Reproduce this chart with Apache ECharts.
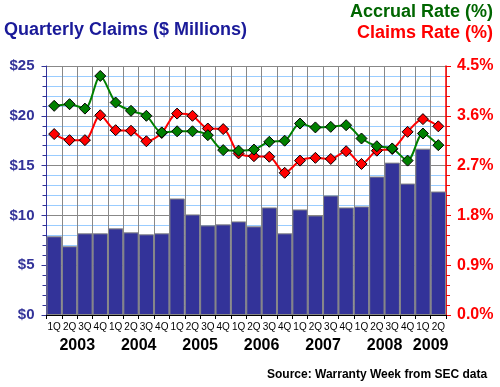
<!DOCTYPE html>
<html><head><meta charset="utf-8">
<script src="https://cdn.jsdelivr.net/npm/echarts@6/dist/echarts.min.js"></script>
<style>html,body{margin:0;padding:0;background:#fff}#c{width:500px;height:387px}</style>
</head><body><div id="c"></div>
<script>
var quarters = ['1Q','2Q','3Q','4Q','1Q','2Q','3Q','4Q','1Q','2Q','3Q','4Q','1Q','2Q','3Q','4Q','1Q','2Q','3Q','4Q','1Q','2Q','3Q','4Q','1Q','2Q'];
var years = ['2003','2004','2005','2006','2007','2008','2009'];
var yearStart = [0,4,8,12,16,20,24];
var yearEnd = [3,7,11,15,19,23,25];
var claims = [7.9,6.9,8.2,8.2,8.7,8.3,8.1,8.2,11.7,10.1,9.0,9.1,9.4,8.9,10.8,8.2,10.6,10.0,12.0,10.8,10.9,13.9,15.3,13.2,16.7,12.4];
var accrualRate = [3.78,3.81,3.73,4.32,3.84,3.69,3.60,3.30,3.32,3.32,3.25,2.98,2.97,2.99,3.13,3.15,3.46,3.39,3.40,3.43,3.19,3.05,3.01,2.79,3.28,3.07];
var claimsRate = [3.27,3.16,3.16,3.61,3.34,3.33,3.14,3.29,3.64,3.60,3.37,3.36,2.92,2.87,2.86,2.57,2.79,2.84,2.82,2.96,2.73,2.97,3.00,3.31,3.54,3.41];
var leftTicks = [0,5,10,15,20,25];
var rightTicks = [0,0.9,1.8,2.7,3.6,4.5];

var chart = echarts.init(document.getElementById('c'));
var F = 'Arial, "Liberation Sans", sans-serif';
chart.setOption({
  animation: false,
  textStyle: {fontFamily: F},
  title: [
    {text: 'Quarterly Claims ($ Millions)', left: 4, top: 21, padding: 0, textStyle: {fontSize: 18, fontWeight: 'bold', color: '#1a1a99', fontFamily: F}},
    {text: 'Accrual Rate (%)', right: 7, top: 3, padding: 0, textStyle: {fontSize: 18, fontWeight: 'bold', color: '#006600', fontFamily: F}},
    {text: 'Claims Rate (%)', right: 7, top: 24, padding: 0, textStyle: {fontSize: 18, fontWeight: 'bold', color: '#ff0000', fontFamily: F}},
    {text: 'Source: Warranty Week from SEC data', left: 267, top: 369, padding: 0, textStyle: {fontSize: 12, fontWeight: 'bold', color: '#000', fontFamily: F}}
  ],
  grid: {left: 46.5, right: 54, top: 66, bottom: 72, containLabel: false},
  xAxis: {
    type: 'category', data: quarters, boundaryGap: true,
    axisLine: {show: true, lineStyle: {color: '#000', width: 1}},
    axisTick: {show: true, interval: 0, length: 4, lineStyle: {color: '#000'}},
    axisLabel: {interval: 0, fontSize: 10, color: '#000', margin: 7, fontFamily: F},
    splitLine: {show: true, interval: 0, lineStyle: {color: '#888888', width: 1}}
  },
  yAxis: [
    {type: 'value', min: leftTicks[0], max: leftTicks[leftTicks.length-1], interval: 5,
     axisLine: {show: true, lineStyle: {color: '#333399', width: 1}},
     axisTick: {show: true, length: 5, lineStyle: {color: '#333399'}},
     minorTick: {show: true, splitNumber: 5, length: 4, lineStyle: {color: '#333399'}},
     axisLabel: {formatter: function(v){return '$' + v;}, fontSize: 15, fontWeight: 'bold', color: '#333399', margin: 12, fontFamily: F},
     splitLine: {show: true, lineStyle: {color: '#888888', width: 1}},
     minorSplitLine: {show: true, lineStyle: {color: '#99ccff', width: 1}}
    },
    {type: 'value', min: rightTicks[0], max: rightTicks[rightTicks.length-1], interval: 0.9, position: 'right',
     axisLine: {show: true, lineStyle: {color: '#ff0000', width: 1.5}},
     axisTick: {show: true, length: 5, lineStyle: {color: '#ff0000'}},
     minorTick: {show: true, splitNumber: 5, length: 4, lineStyle: {color: '#ff0000'}},
     axisLabel: {formatter: function(v){return v.toFixed(1) + '%';}, fontSize: 16, fontWeight: 'bold', color: '#ff0000', margin: 11, fontFamily: F},
     splitLine: {show: false}
    }
  ],
  series: [
    {type: 'bar', data: claims, barCategoryGap: '0%', yAxisIndex: 0,
     itemStyle: {color: '#333399', borderColor: '#888888', borderWidth: 1}},
    {type: 'line', data: claimsRate, yAxisIndex: 1, smooth: 0.3, symbol: 'diamond', symbolSize: 11,
     lineStyle: {color: '#ff0000', width: 2},
     itemStyle: {color: '#ff0000', borderColor: '#000', borderWidth: 1}},
    {type: 'line', data: accrualRate, yAxisIndex: 1, smooth: 0.3, symbol: 'diamond', symbolSize: 11,
     lineStyle: {color: '#008000', width: 2},
     itemStyle: {color: '#008000', borderColor: '#000', borderWidth: 1}}
  ]
});

var g = [];
for (var i = 0; i < years.length; i++) {
  var a = chart.convertToPixel({xAxisIndex: 0}, yearStart[i]);
  var b = chart.convertToPixel({xAxisIndex: 0}, yearEnd[i]);
  g.push({type: 'text', x: (a + b) / 2, y: 346,
    style: {text: years[i], font: 'bold 16px ' + F, fill: '#000', align: 'center', verticalAlign: 'middle'}});
}
chart.setOption({graphic: g});
</script>
</body></html>
